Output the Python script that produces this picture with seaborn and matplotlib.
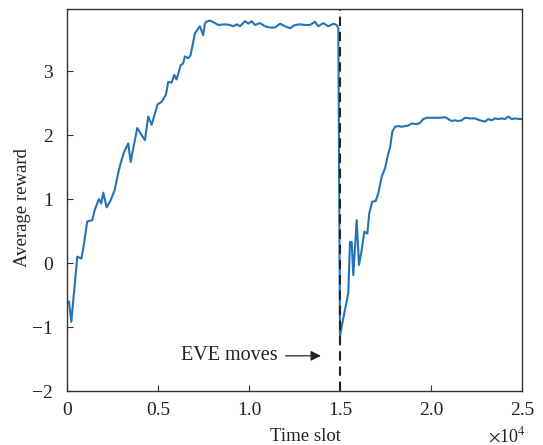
import pandas as pd
import matplotlib
matplotlib.use("Agg")
import matplotlib.pyplot as plt
import seaborn as sns

# values
time_slot = [
    0, 110, 236, 565, 785, 895, 1114, 1389, 1521, 1757, 1883, 1993, 2180, 2399,
    2619, 2800, 2948, 3129, 3365, 3497, 3859, 4282, 4463, 4650, 4979, 5199,
    5435, 5561, 5748, 5891, 6023, 6242, 6385, 6478, 6659, 6791, 7027, 7302,
    7483, 7576, 7637, 7857, 8132, 8313, 8681, 8956, 9137, 9324, 9505, 9780,
    9962, 10148, 10330, 10604, 10879, 11154, 11429, 11703, 11978, 12253, 12527,
    12802, 13077, 13352, 13626, 13808, 14082, 14357, 14632, 14819, 14907, 15000,
    15093, 15275, 15456, 15549, 15643, 15731, 15918, 16044, 16192, 16335, 16500,
    16610, 16775, 16962, 17104, 17291, 17473, 17654, 17747, 17874, 18022, 18203,
    18390, 18571, 18753, 18939, 19214, 19396, 19577, 19764, 20126, 20495, 20769,
    20951, 21137, 21319, 21500, 21687, 21868, 22143, 22418, 22692, 22967, 23148,
    23335, 23516, 23698, 23885, 24066, 24247, 24434, 24615, 24890, 25000,
]
avg_reward = [
    -0.63, -0.60, -0.92, 0.10, 0.07, 0.23, 0.65, 0.67, 0.83, 1.00, 0.93, 1.10,
    0.87, 0.98, 1.14, 1.39, 1.56, 1.73, 1.87, 1.58, 2.11, 1.92, 2.29, 2.16,
    2.48, 2.52, 2.63, 2.83, 2.82, 2.94, 2.87, 3.09, 3.12, 3.23, 3.20, 3.25,
    3.59, 3.70, 3.56, 3.74, 3.77, 3.79, 3.75, 3.72, 3.73, 3.72, 3.70, 3.73,
    3.70, 3.78, 3.74, 3.78, 3.72, 3.75, 3.70, 3.68, 3.68, 3.74, 3.70, 3.67,
    3.72, 3.73, 3.72, 3.72, 3.77, 3.70, 3.75, 3.70, 3.74, 3.72, 3.67, -1.15,
    -0.99, -0.73, -0.47, 0.33, 0.33, -0.19, 0.67, -0.03, 0.20, 0.49, 0.46,
    0.78, 0.96, 0.97, 1.09, 1.35, 1.48, 1.71, 1.80, 2.05, 2.13, 2.14, 2.13,
    2.14, 2.15, 2.18, 2.17, 2.19, 2.25, 2.27, 2.27, 2.27, 2.28, 2.25, 2.22,
    2.23, 2.22, 2.23, 2.27, 2.26, 2.26, 2.23, 2.21, 2.25, 2.23, 2.26, 2.25,
    2.26, 2.25, 2.29, 2.25, 2.26, 2.25, 2.25,
]

x_ticks = [0, 5000, 10000, 15000, 20000, 25000]
x_tick_labels = ["0", "0.5", "1.0", "1.5", "2.0", "2.5"]
y_ticks = [-2, -1, 0, 1, 2, 3]
y_tick_labels = ["\u22122", "\u22121", "0", "1", "2", "3"]
eve_move_slot = 15000

df = pd.DataFrame({"time_slot": time_slot, "avg_reward": avg_reward})

sns.set_style("ticks")
plt.rcParams["font.family"] = ["Liberation Serif", "DejaVu Serif"]
plt.rcParams["mathtext.fontset"] = "stix"

fig = plt.figure(figsize=(5.43, 4.45), dpi=100)
ax = fig.add_axes([0.1234, 0.1213, 0.8379, 0.8585])

sns.lineplot(data=df, x="time_slot", y="avg_reward", ax=ax, sort=False,
             estimator=None, color="#2373b6", linewidth=1.5)
ax.axvline(eve_move_slot, color="#222222", linestyle=(0, (4.5, 2.8)), linewidth=1.5)

ax.annotate("EVE moves", xy=(13950, -1.45), xytext=(11600, -1.45),
            ha="right", va="center", fontsize=14.5, color="#222222",
            arrowprops=dict(arrowstyle="-|>", color="#222222", lw=0.9,
                            mutation_scale=15, shrinkA=3, shrinkB=0))

ax.set_xlim(0, 25000)
ax.set_ylim(-2, 3.97)
ax.set_xticks(x_ticks)
ax.set_xticklabels(x_tick_labels)
ax.set_yticks(y_ticks)
ax.set_yticklabels(y_tick_labels)
ax.tick_params(direction="in", length=4, width=0.8, colors="#333333",
               labelcolor="#222222", labelsize=14, top=False, right=False)
ax.tick_params(axis="x", pad=8)
ax.tick_params(axis="y", pad=10)
for s in ax.spines.values():
    s.set_color("#333333")
    s.set_linewidth(1.0)

ax.set_xlabel("Time slot", fontsize=13.5, color="#222222")
ax.set_ylabel("Average reward", fontsize=13.5, color="#222222")
ax.xaxis.set_label_coords(0.523, -0.118)
ax.yaxis.set_label_coords(-0.097, 0.48)
ax.xaxis.label.set_va("center")
ax.yaxis.label.set_va("center")
ax.text(1.008, -0.118, r"$\times$10$^4$", transform=ax.transAxes,
        ha="right", va="center", fontsize=13, color="#222222")

fig.savefig("out.png", dpi=100)
